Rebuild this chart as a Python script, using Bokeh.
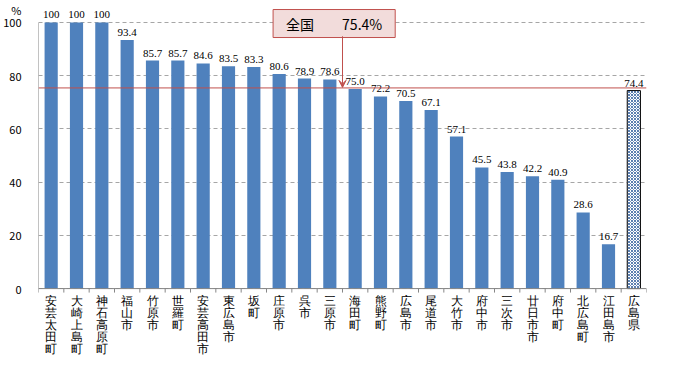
from bokeh.plotting import figure
from bokeh.models import ColumnDataSource, LabelSet, Label, Span, Arrow, VeeHead, FactorRange
from bokeh.embed import file_html
from bokeh.resources import INLINE

names = ["安芸太田町", "大崎上島町", "神石高原町", "福山市", "竹原市", "世羅町", "安芸高田市",
         "東広島市", "坂町", "庄原市", "呉市", "三原市", "海田町", "熊野町", "広島市", "尾道市",
         "大竹市", "府中市", "三次市", "廿日市市", "府中町", "北広島町", "江田島市", "広島県"]
values = [100, 100, 100, 93.4, 85.7, 85.7, 84.6, 83.5, 83.3, 80.6, 78.9, 78.6, 75.0, 72.2,
          70.5, 67.1, 57.1, 45.5, 43.8, 42.2, 40.9, 28.6, 16.7, 74.4]
value_labels = ["100", "100", "100", "93.4", "85.7", "85.7", "84.6", "83.5", "83.3", "80.6",
                "78.9", "78.6", "75.0", "72.2", "70.5", "67.1", "57.1", "45.5", "43.8", "42.2",
                "40.9", "28.6", "16.7", "74.4"]
national = 75.4
national_text = "全国　　75.4%"
y_ticks = [0, 20, 40, 60, 80, 100]
unit_label = "%"

FONT = "Noto Sans CJK JP"
factors = names
vertical_names = ["\n".join(n) for n in names]

p = figure(width=660, height=361, output_backend="svg", toolbar_location=None,
           x_range=FactorRange(factors=factors, range_padding=0), y_range=(-27.4, 108.25),
           min_border_left=0, min_border_top=0, min_border_right=14, min_border_bottom=0)
p.outline_line_color = None
p.background_fill_color = "white"

src_main = ColumnDataSource(dict(x=factors[:-1], top=values[:-1], lab=value_labels[:-1]))
src_pref = ColumnDataSource(dict(x=factors[-1:], top=values[-1:], lab=value_labels[-1:]))
src_cat = ColumnDataSource(dict(x=factors, y=[0] * len(factors), lab=vertical_names))

p.vbar(x="x", top="top", width=0.52, source=src_main, fill_color="#4f81bd", line_color=None)
p.vbar(x="x", top="top", width=0.52, source=src_pref, fill_color="white",
       hatch_pattern="diagonal_cross", hatch_color="#5b7fb0", hatch_scale=3, hatch_weight=1,
       line_color="black", line_width=1)

for src in (src_main, src_pref):
    p.add_layout(LabelSet(x="x", y="top", text="lab", source=src, text_align="center",
                          text_baseline="bottom", y_offset=4, text_font_size="11px",
                          text_font=FONT, text_color="black"))

# category labels written vertically below the axis
p.add_layout(LabelSet(x="x", y="y", text="lab", source=src_cat, text_align="center",
                      text_baseline="top", y_offset=-5, text_font_size="12px",
                      text_font=FONT, text_color="black", text_line_height=0.87))

p.add_layout(Span(location=national, dimension="width", line_color="#c0504d", line_width=1))

n = len(factors)
# axes lines and boundary ticks
p.segment(x0=[0], y0=[y_ticks[0]], x1=[0], y1=[y_ticks[-1]], line_color="#868686", line_width=1)
p.segment(x0=[0], y0=[0], x1=[n], y1=[0], line_color="#868686", line_width=1)
p.segment(x0=list(range(n + 1)), y0=[0] * (n + 1), x1=list(range(n + 1)), y1=[-1.5] * (n + 1),
          line_color="#868686", line_width=1)

p.add_layout(Label(x=11.67, y=99.6, text=national_text, text_align="center",
                   text_baseline="middle", text_font=FONT, text_font_size="14px",
                   text_color="black", background_fill_color="#f2dcdb",
                   border_line_color="#c0504d", border_line_width=1, padding=(13, 4)))
p.add_layout(Arrow(x_start=12, y_start=94.8, x_end=12, y_end=75.6, line_color="#c0504d",
                   line_width=1, end=VeeHead(size=7, line_color="#c0504d", fill_color="#c0504d")))

p.ygrid.ticker = y_ticks
p.ygrid.grid_line_color = "#a6a6a6"
p.ygrid.grid_line_dash = "4 3"
p.xgrid.grid_line_color = None

p.yaxis.ticker = y_ticks + [104.6]
p.yaxis.major_label_overrides = {104.6: unit_label}
p.yaxis.axis_line_color = None
p.yaxis.major_tick_line_color = None
p.yaxis.minor_tick_line_color = None
p.yaxis.major_label_standoff = 11
p.yaxis.major_label_text_font = FONT
p.yaxis.major_label_text_font_size = "11px"
p.yaxis.major_label_text_color = "black"

p.xaxis.visible = False

open("out.html", "w").write(file_html(p, INLINE))
